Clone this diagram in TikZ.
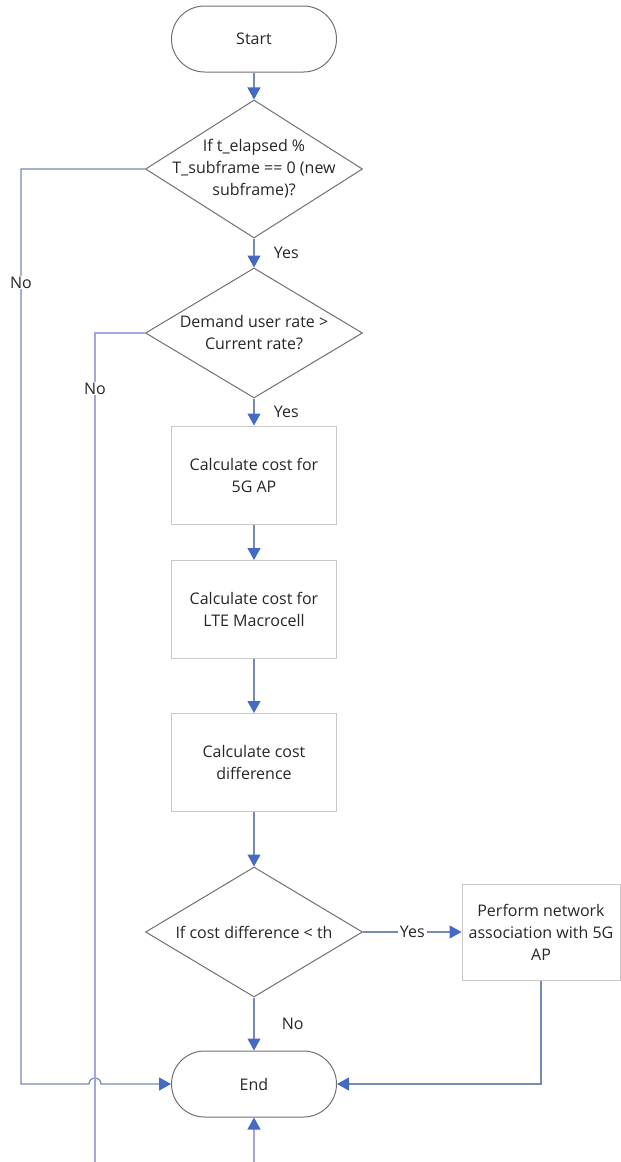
\documentclass[tikz,border=0pt]{standalone}
\usepackage{fontspec}
\setmainfont{Open Sans}
\usetikzlibrary{shapes.geometric, arrows.meta, positioning}
\definecolor{bordergray}{RGB}{112,112,112}
\definecolor{boxgray}{RGB}{200,200,200}
\definecolor{linecol}{RGB}{118,138,182}
\definecolor{loopcol}{RGB}{165,165,225}
\definecolor{tipblue}{RGB}{68,106,196}
\definecolor{textcol}{RGB}{38,38,38}
\tikzstyle{terminal} = [rectangle, rounded corners=33pt, minimum width=165pt,
  minimum height=66pt, text centered, draw=bordergray, line width=1pt]
\tikzstyle{decision} = [diamond, minimum width=217pt, minimum height=130pt,
  align=center, inner sep=-30pt, draw=bordergray, line width=1pt]
\tikzstyle{process} = [rectangle, minimum width=165pt, minimum height=98pt,
  align=center, draw=boxgray, line width=1pt]
\tikzstyle{arrow} = [draw=linecol, line width=1.2pt,
  -{Triangle[length=12pt, width=13pt, color=tipblue]}]

\begin{document}
\begin{tikzpicture}[x=1pt, y=-1pt, node distance=150pt,
  font=\fontsize{16}{22}\selectfont, text=textcol]
  \useasboundingbox (0,0) rectangle (621,1162);
  \clip (0,0) rectangle (621,1162);

  \node (start) [terminal] at (254,39) {Start};
  \node (dec1) [decision, below of=start, yshift=20pt, minimum height=138pt]
    {If t\_elapsed \%\\T\_subframe == 0 (new\\subframe)?};
  \node (dec2) [decision, below of=dec1, yshift=-14pt]
    {Demand user rate >\\Current rate?};
  \node (calc1) [process, below of=dec2, yshift=8pt]
    {Calculate cost for\\5G AP};
  \node (calc2) [process, below of=calc1, yshift=15.5pt]
    {Calculate cost for\\LTE Macrocell};
  \node (calc3) [process, below of=calc2, yshift=-3pt]
    {Calculate cost\\difference};
  \node (dec3) [decision, below of=calc3, yshift=-19.5pt]
    {If cost difference < th};
  \node (assoc) [process, right of=dec3, xshift=137pt, minimum width=158pt,
    minimum height=96pt] {Perform network\\association with 5G\\AP};
  \node (stop) [terminal, below of=dec3, yshift=-2pt] {End};

  % loop columns on the left
  \coordinate (col1) at (21,0);
  \coordinate (col2) at (95,0);
  \coordinate (under) at (0,1200);

  \draw [arrow] (start) -- (dec1);
  \draw [arrow] (dec1) -- node[anchor=west, xshift=16pt] {Yes} (dec2);
  \draw [arrow] (dec2) -- node[anchor=west, xshift=16pt] {Yes} (calc1);
  \draw [arrow] (calc1) -- (calc2);
  \draw [arrow] (calc2) -- (calc3);
  \draw [arrow] (calc3) -- (dec3);
  \draw [arrow] (dec3) -- node[fill=white, inner sep=2pt] {Yes} (assoc);
  \draw [arrow] (dec3) -- node[anchor=west, xshift=24pt] {No} (stop);
  \draw [arrow] (assoc) |- (stop);
  \draw [arrow] (dec1.west) -| node[pos=0.562, fill=white, inner sep=1pt] {No}
    (col1 |- stop) -- ([xshift=-6pt]col2 |- stop)
    arc[start angle=180, end angle=0, radius=6pt] -- (stop.west);
  \draw [arrow, draw=loopcol] (dec2.west) -| node[pos=0.532, fill=white,
    inner sep=1pt] {No} (col2 |- under) -| (stop);
\end{tikzpicture}
\end{document}
